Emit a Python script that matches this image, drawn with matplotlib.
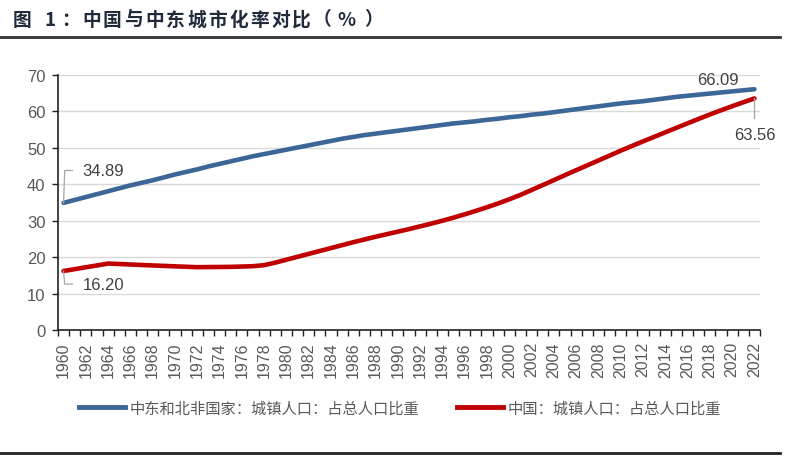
import numpy as np
import matplotlib
matplotlib.use("Agg")
import matplotlib.pyplot as plt
from matplotlib.lines import Line2D
from matplotlib.transforms import offset_copy

plt.rcParams['font.family'] = ['Noto Sans CJK SC', 'DejaVu Sans']

years = list(range(1960, 2023))

# 中东和北非国家：城镇人口：占总人口比重
mena = [34.89, 35.7, 36.5, 37.3, 38.1, 38.9, 39.7, 40.4, 41.1, 41.9,
        42.7, 43.4, 44.1, 44.9, 45.6, 46.3, 47.0, 47.7, 48.3, 48.9,
        49.5, 50.1, 50.7, 51.3, 51.9, 52.5, 53.0, 53.5, 53.9, 54.3,
        54.7, 55.1, 55.5, 55.9, 56.3, 56.7, 57.0, 57.3, 57.7, 58.0,
        58.4, 58.7, 59.1, 59.4, 59.8, 60.2, 60.6, 61.0, 61.4, 61.8,
        62.2, 62.5, 62.8, 63.2, 63.6, 64.0, 64.3, 64.6, 64.9, 65.2,
        65.5, 65.8, 66.09]

# 中国：城镇人口：占总人口比重
china = [16.20, 16.71, 17.23, 17.72, 18.25, 18.12, 17.98, 17.85, 17.72, 17.60,
         17.48, 17.36, 17.25, 17.28, 17.30, 17.34, 17.42, 17.52, 17.80, 18.50,
         19.30, 20.10, 20.90, 21.70, 22.50, 23.30, 24.10, 24.85, 25.60, 26.30,
         27.00, 27.70, 28.45, 29.20, 30.00, 30.85, 31.75, 32.70, 33.70, 34.75,
         35.88, 37.09, 38.43, 39.78, 41.14, 42.52, 43.87, 45.20, 46.54, 47.88,
         49.23, 50.51, 51.77, 53.01, 54.26, 55.50, 56.74, 57.96, 59.15, 60.31,
         61.43, 62.51, 63.56]

label_mena = "中东和北非国家：城镇人口：占总人口比重"
label_china = "中国：城镇人口：占总人口比重"
title = "图1：中国与中东城市化率对比（%）"

blue = "#3d6698"
red = "#c00000"
grey = "#595959"
num_family = ['Liberation Sans', 'DejaVu Sans']

fig = plt.figure(figsize=(8, 4.6), dpi=100)
ax = fig.add_axes([0.0725, 0.2804, 0.8775, 0.5544])

ax.plot(years, mena, color=blue, lw=3.3, solid_capstyle="round")
ax.plot(years, china, color=red, lw=3.3, solid_capstyle="round")

ax.set_xlim(1959.5, 2022.5)
ax.set_ylim(0, 70)
ax.set_yticks(range(0, 71, 10))
ax.yaxis.grid(True, color="#d9d9d9", lw=1)
ax.set_axisbelow(True)

ax.set_xticks(years[::2])
ax.set_xticklabels([str(y) for y in years[::2]], rotation=90, fontsize=11.5,
                   color=grey, family=num_family)
ax.set_xticks(np.arange(1959.5, 2023, 1), minor=True)
ax.tick_params(axis="x", which="major", length=0, pad=8)
ax.tick_params(axis="x", which="minor", length=4, width=1, color="#222222")
ax.tick_params(axis="y", length=4, width=1, color="#222222", labelsize=12,
               labelcolor=grey, pad=5)
for lbl in ax.get_yticklabels():
    lbl.set_family(num_family)

for s in ["top", "right"]:
    ax.spines[s].set_visible(False)
for s in ["left", "bottom"]:
    ax.spines[s].set_color("#222222")
    ax.spines[s].set_linewidth(1.2)

# 数据标签
lab_font = dict(fontsize=12, color="#404040", family=num_family)
ax.plot([years[0], years[0] + 0.1, years[0] + 0.8], [mena[0], mena[0] + 8.9, mena[0] + 8.9],
        color="#a6a6a6", lw=0.9)
ax.text(years[0] + 1.7, mena[0] + 8.9, f"{mena[0]:.2f}", va="center", ha="left", **lab_font)
ax.plot([years[0], years[0] + 0.1, years[0] + 0.8], [china[0], china[0] - 3.6, china[0] - 3.6],
        color="#a6a6a6", lw=0.9)
ax.text(years[0] + 1.7, china[0] - 3.6, f"{china[0]:.2f}", va="center", ha="left", **lab_font)
ax.text(years[-1] - 3.3, mena[-1] + 2.6, f"{mena[-1]:.2f}", va="center", ha="center", **lab_font)
ax.plot([years[-1], years[-1]], [china[-1], china[-1] - 5.5], color="#a6a6a6", lw=0.9)
ax.text(years[-1], china[-1] - 10, f"{china[-1]:.2f}", va="center", ha="center", **lab_font)

# 图例
handles = [Line2D([0], [0], color=blue, lw=3.5), Line2D([0], [0], color=red, lw=3.5)]
fig.legend(handles, [label_mena, label_china], loc="center", bbox_to_anchor=(0.5, 0.111),
           ncol=2, frameon=False, fontsize=11, labelcolor=grey, handlelength=3.0,
           handletextpad=0.3, columnspacing=2.5)

# 标题（逐字排布，模拟字间距）
pitch = {"图": 31, "1": 17, "（": 24, "%": 27}
x_px = 13
for ch in title:
    tr = offset_copy(fig.transFigure, fig=fig, x=x_px, y=0, units="dots")
    fig.text(0, 1 - 20 / 460, ch, transform=tr, fontsize=13.5, fontweight="bold",
             color="#1f2a3a", va="center", ha="left")
    x_px += pitch.get(ch, 21)
fig.add_artist(Line2D([0, 0.975], [1 - 37.7 / 460] * 2, color="#333333", lw=2))
fig.add_artist(Line2D([0, 0.975], [1 - 454 / 460] * 2, color="#222222", lw=2))

fig.savefig("out.png", dpi=100)
